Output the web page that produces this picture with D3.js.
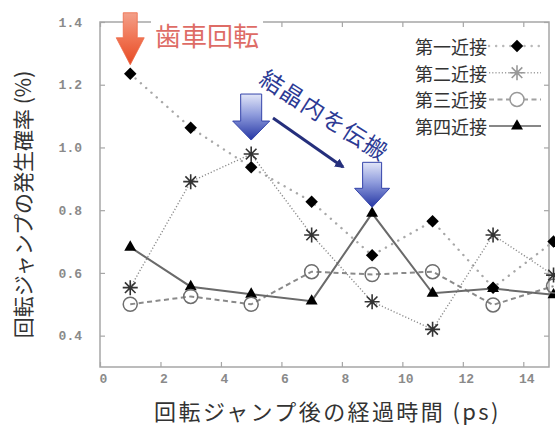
<!DOCTYPE html>
<html>
<head>
<meta charset="utf-8">
<script src="https://cdn.jsdelivr.net/npm/d3@7"></script>
<style>
  html, body { margin: 0; padding: 0; background: #fff; }
  svg { display: block; }
</style>
</head>
<body>
<div id="chart"></div>
<script>
// ---- data ----
const times = [1, 3, 5, 7, 9, 11, 13, 15];               // ps after the rotational jump
const first  = [1.235, 1.063, 0.937, 0.827, 0.656, 0.765, 0.553, 0.700];
const second = [0.553, 0.891, 0.979, 0.721, 0.508, 0.420, 0.721, 0.593];
const third  = [0.500, 0.525, 0.500, 0.604, 0.595, 0.604, 0.498, 0.558];
const fourth = [0.682, 0.556, 0.532, 0.510, 0.790, 0.535, 0.550, 0.530];
const seriesNames = ["第一近接", "第二近接", "第三近接", "第四近接"];
const xTicks = [0, 2, 4, 6, 8, 10, 12, 14];
const yTicks = [0.4, 0.6, 0.8, 1.0, 1.2, 1.4];
const xTitle = "回転ジャンプ後の経過時間 (ps)";
const yTitle = "回転ジャンプの発生確率 (%)";
const gearLabel = "歯車回転";
const spreadLabel = "結晶内を伝搬";

// ---- layout ----
const W = 555, H = 425;
const plot = { left: 100, top: 22, right: 549, bottom: 367 };
const jp = "'Noto Sans CJK JP', 'Noto Sans', sans-serif";

const svg = d3.select("#chart").append("svg")
  .attr("width", W).attr("height", H);

const x = d3.scaleLinear().domain([0, 14.85]).range([plot.left, plot.right]);
const y = d3.scaleLinear().domain([0.3, 1.4]).range([plot.bottom, plot.top]);

const defs = svg.append("defs");
const orangeGrad = defs.append("linearGradient").attr("id", "gOrange")
  .attr("x1", 0).attr("y1", 0).attr("x2", 0).attr("y2", 1);
orangeGrad.append("stop").attr("offset", 0).attr("stop-color", "#f3a08a");
orangeGrad.append("stop").attr("offset", 0.5).attr("stop-color", "#f07352");
orangeGrad.append("stop").attr("offset", 1).attr("stop-color", "#e64a24");
const blueGrad = defs.append("linearGradient").attr("id", "gBlue")
  .attr("x1", 0).attr("y1", 0).attr("x2", 0).attr("y2", 1);
blueGrad.append("stop").attr("offset", 0).attr("stop-color", "#e2e6f8");
blueGrad.append("stop").attr("offset", 0.45).attr("stop-color", "#8e9bdc");
blueGrad.append("stop").attr("offset", 1).attr("stop-color", "#2536a4");
defs.append("marker").attr("id", "navyHead")
  .attr("viewBox", "0 0 10 10").attr("refX", 8).attr("refY", 5)
  .attr("markerWidth", 3.2).attr("markerHeight", 3.2).attr("orient", "auto")
  .append("path").attr("d", "M0,0 L10,5 L0,10 Z").attr("fill", "#252f7c");

// ---- frame and ticks ----
const frameColor = "#a6a6a6";
svg.append("rect")
  .attr("x", plot.left).attr("y", plot.top)
  .attr("width", plot.right - plot.left).attr("height", plot.bottom - plot.top)
  .attr("fill", "none").attr("stroke", frameColor).attr("stroke-width", 1.5);

function styleAxis(g) {
  g.select(".domain").remove();
  g.selectAll(".tick line").attr("stroke", frameColor).attr("stroke-width", 1.2);
  g.selectAll(".tick text")
    .attr("fill", "#8a8a8a")
    .attr("font-family", "'Liberation Mono', 'DejaVu Sans Mono', monospace")
    .attr("font-weight", "bold")
    .attr("font-size", 13);
}

svg.append("g").attr("transform", `translate(0,${plot.bottom})`)
  .call(d3.axisBottom(x).tickValues(xTicks).tickFormat(d3.format("d"))
    .tickSize(-5).tickPadding(7))
  .call(styleAxis)
  .call(g => g.selectAll(".tick text").attr("dx", 3));
svg.append("g").attr("transform", `translate(0,${plot.top})`)
  .call(d3.axisTop(x).tickValues(xTicks).tickFormat("").tickSize(-5))
  .call(styleAxis);
svg.append("g").attr("transform", `translate(${plot.left},0)`)
  .call(d3.axisLeft(y).tickValues(yTicks).tickFormat(d3.format(".1f"))
    .tickSize(-5).tickPadding(18))
  .call(styleAxis);
svg.append("g").attr("transform", `translate(${plot.right},0)`)
  .call(d3.axisRight(y).tickValues(yTicks).tickFormat("").tickSize(-5))
  .call(styleAxis);

// ---- axis titles ----
svg.append("text")
  .attr("x", (plot.left + plot.right) / 2 + 3).attr("y", 410)
  .attr("text-anchor", "middle").attr("dominant-baseline", "central")
  .attr("font-family", jp).attr("font-size", 22).attr("letter-spacing", 2.4)
  .attr("fill", "#333")
  .text(xTitle);
svg.append("text")
  .attr("transform", `translate(22,${(plot.top + plot.bottom) / 2 + 10}) rotate(-90)`)
  .attr("text-anchor", "middle").attr("dominant-baseline", "central")
  .attr("font-family", jp).attr("font-size", 21).attr("fill", "#333")
  .text(yTitle);

// ---- series ----
const lineGen = d3.line().x(d => x(d[0])).y(d => y(d[1]));

const asterisk = r => {
  const p = d3.path();
  for (let k = 0; k < 4; k++) {
    const a = k * Math.PI / 4;
    p.moveTo(-r * Math.cos(a), -r * Math.sin(a));
    p.lineTo(r * Math.cos(a), r * Math.sin(a));
  }
  return p.toString();
};

const series = [
  { name: seriesNames[0], values: first,
    line: { stroke: "#a8a8a8", width: 2.4, dash: "0.1,7", cap: "round" },
    mark: { d: d3.symbol(d3.symbolSquare, 78)(), rotate: 45, fill: "#000", stroke: "none", sw: 0 } },
  { name: seriesNames[1], values: second,
    line: { stroke: "#8c8c8c", width: 1.4, dash: "1.2,2", cap: "butt" },
    mark: { d: asterisk(7.5), rotate: 0, fill: "none", stroke: "#333", sw: 1.6 } },
  { name: seriesNames[2], values: third,
    line: { stroke: "#8a8a8a", width: 2, dash: "5,3.5", cap: "butt" },
    mark: { d: d3.symbol(d3.symbolCircle, Math.PI * 49)(), rotate: 0, fill: "none", stroke: "#6e6e6e", sw: 1.5 } },
  { name: seriesNames[3], values: fourth,
    line: { stroke: "#6a6a6a", width: 2, dash: null, cap: "butt" },
    mark: { d: d3.symbol(d3.symbolTriangle, 62)(), rotate: 0, fill: "#000", stroke: "none", sw: 0 } }
];

const linesG = svg.append("g");
series.forEach(s => {
  linesG.append("path")
    .datum(times.map((t, i) => [t, s.values[i]]))
    .attr("d", lineGen)
    .attr("fill", "none")
    .attr("stroke", s.line.stroke)
    .attr("stroke-width", s.line.width)
    .attr("stroke-dasharray", s.line.dash)
    .attr("stroke-linecap", s.line.cap);
});

const marksG = svg.append("g");
series.slice().reverse().forEach(s => {
  marksG.append("g").selectAll("path")
    .data(times.map((t, i) => [t, s.values[i]]))
    .join("path")
    .attr("transform", d => `translate(${x(d[0])},${y(d[1])}) rotate(${s.mark.rotate})`)
    .attr("d", s.mark.d)
    .attr("fill", s.mark.fill)
    .attr("stroke", s.mark.stroke)
    .attr("stroke-width", s.mark.sw);
});

// ---- legend ----
const legend = svg.append("g");
series.forEach((s, i) => {
  const cy = 46 + i * 26.7;
  legend.append("text")
    .attr("x", 415).attr("y", cy)
    .attr("dominant-baseline", "central")
    .attr("font-family", jp).attr("font-size", 18).attr("fill", "#333")
    .text(s.name);
  legend.append("line")
    .attr("x1", 489).attr("x2", 541).attr("y1", cy).attr("y2", cy)
    .attr("stroke", s.line.stroke).attr("stroke-width", s.line.width)
    .attr("stroke-dasharray", s.line.dash).attr("stroke-linecap", s.line.cap)
    .attr("opacity", 0.8);
  legend.append("path")
    .attr("transform", `translate(517,${cy}) rotate(${s.mark.rotate})`)
    .attr("d", s.mark.d)
    .attr("fill", s.mark.fill === "none" ? "#fff" : s.mark.fill)
    .attr("stroke", s.mark.stroke === "none" ? null : "#999")
    .attr("stroke-width", s.mark.sw);
});

// ---- annotations ----
function downArrow(cx, tipY, shaftW, headW, shaftLen, headLen) {
  const p = d3.path();
  const top = tipY - headLen - shaftLen, neck = tipY - headLen;
  p.moveTo(cx - shaftW / 2, top);
  p.lineTo(cx + shaftW / 2, top);
  p.lineTo(cx + shaftW / 2, neck);
  p.lineTo(cx + headW / 2, neck);
  p.lineTo(cx, tipY);
  p.lineTo(cx - headW / 2, neck);
  p.lineTo(cx - shaftW / 2, neck);
  p.closePath();
  return p.toString();
}

const ann = svg.append("g");

// gear-rotation label sits over the top frame line
const gearText = ann.append("text")
  .attr("x", 155).attr("y", 34)
  .attr("dominant-baseline", "central")
  .attr("font-family", jp).attr("font-size", 26).attr("fill", "#de6c66")
  .text(gearLabel);
const gb = gearText.node().getBBox();
ann.insert("rect", "text")
  .attr("x", gb.x - 4).attr("y", gb.y).attr("width", gb.width + 8).attr("height", gb.height)
  .attr("fill", "#fff");

// orange arrow pointing at the first-neighbour start
ann.append("path")
  .attr("d", downArrow(x(times[0]), y(first[0]) - 9, 14, 28, 25, 27))
  .attr("fill", "url(#gOrange)").attr("stroke", "#ee6a48").attr("stroke-width", 0.8);

// blue arrows: second-neighbour peak, then fourth-neighbour peak
ann.append("path")
  .attr("d", downArrow(x(times[2]), y(second[2]) - 14, 21, 37, 27, 19))
  .attr("fill", "url(#gBlue)").attr("stroke", "#3444aa").attr("stroke-width", 1);
ann.append("path")
  .attr("d", downArrow(x(times[4]), y(fourth[4]) - 6, 19, 35, 26, 19))
  .attr("fill", "url(#gBlue)").attr("stroke", "#3444aa").attr("stroke-width", 1);

// propagation arrow and its label
ann.append("line")
  .attr("x1", 273).attr("y1", 118).attr("x2", 343).attr("y2", 167)
  .attr("stroke", "#252f7c").attr("stroke-width", 3)
  .attr("marker-end", "url(#navyHead)");
ann.append("text")
  .attr("transform", "translate(325,114) rotate(32.5)")
  .attr("text-anchor", "middle").attr("dominant-baseline", "central")
  .attr("font-family", jp).attr("font-size", 23).attr("letter-spacing", 1.5)
  .attr("fill", "#2c3a94")
  .text(spreadLabel);
</script>
</body>
</html>
